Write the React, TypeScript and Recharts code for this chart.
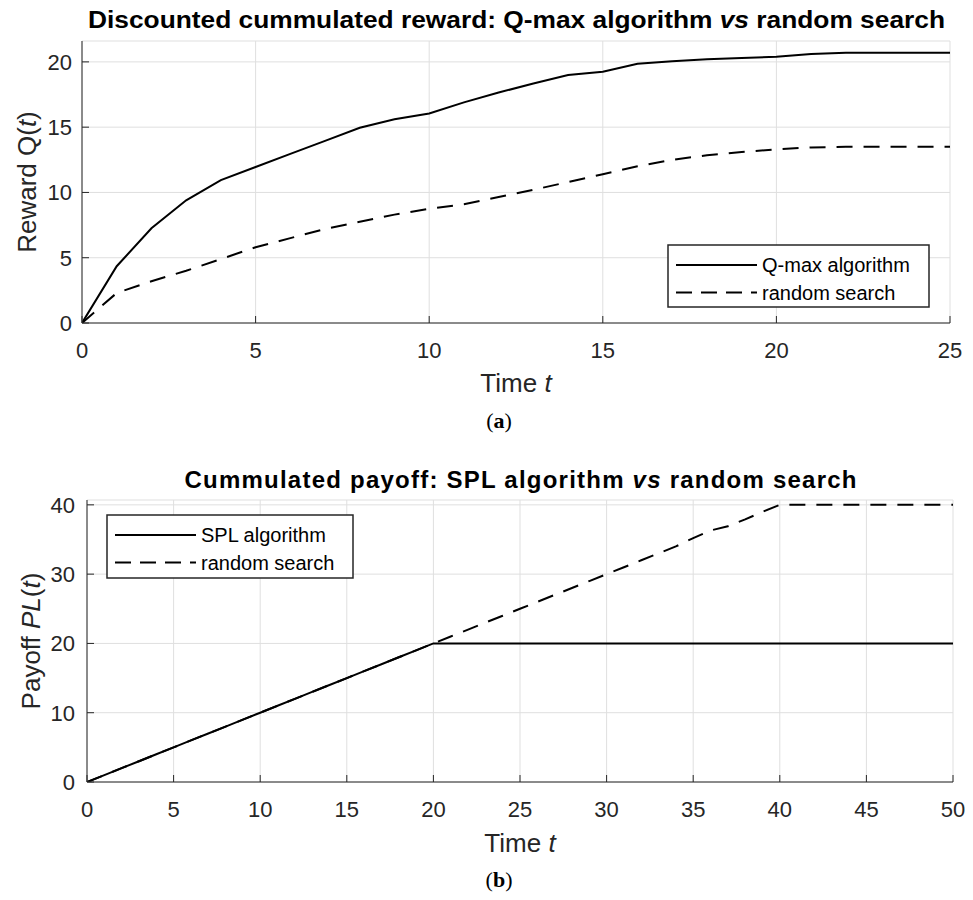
import React from 'react';
import { LineChart, Line, XAxis, YAxis, CartesianGrid } from 'recharts';

// (a) discounted cummulated reward, t = 0..25
const rewardTime = [0, 1, 2, 3, 4, 5, 6, 7, 8, 9, 10, 11, 12, 13, 14, 15, 16, 17, 18, 19, 20, 21, 22, 23, 24, 25];
const qMaxReward = [0, 4.35, 7.25, 9.4, 10.95, 11.95, 12.95, 13.95, 14.95, 15.6, 16.05, 16.9, 17.65, 18.35, 19.0, 19.25, 19.85, 20.05, 20.2, 20.3, 20.4, 20.6, 20.7, 20.7, 20.7, 20.7];
const randomReward = [0, 2.3, 3.2, 4.0, 4.9, 5.8, 6.5, 7.2, 7.75, 8.3, 8.75, 9.1, 9.65, 10.2, 10.8, 11.4, 12.0, 12.5, 12.85, 13.1, 13.3, 13.45, 13.5, 13.5, 13.5, 13.5];
const rewardXTicks = [0, 5, 10, 15, 20, 25];
const rewardYTicks = [0, 5, 10, 15, 20];

// (b) cummulated payoff, t = 0..50
const payoffTime = [0, 1, 2, 3, 4, 5, 6, 7, 8, 9, 10, 11, 12, 13, 14, 15, 16, 17, 18, 19, 20, 21, 22, 23, 24, 25, 26, 27, 28, 29, 30, 31, 32, 33, 34, 35, 36, 37, 38, 39, 40, 41, 42, 43, 44, 45, 46, 47, 48, 49, 50];
const splPayoff = [0, 1, 2, 3, 4, 5, 6, 7, 8, 9, 10, 11, 12, 13, 14, 15, 16, 17, 18, 19, 20, 20, 20, 20, 20, 20, 20, 20, 20, 20, 20, 20, 20, 20, 20, 20, 20, 20, 20, 20, 20, 20, 20, 20, 20, 20, 20, 20, 20, 20, 20];
const randomPayoff = [0, 1, 2, 3, 4, 5, 6, 7, 8, 9, 10, 11, 12, 13, 14, 15, 16, 17, 18, 19, 20, 21, 22, 23, 24, 25, 26, 27, 28, 29, 30, 31, 32, 33, 34, 35.2, 36.3, 36.9, 37.9, 39, 40, 40, 40, 40, 40, 40, 40, 40, 40, 40, 40];
const payoffXTicks = [0, 5, 10, 15, 20, 25, 30, 35, 40, 45, 50];
const payoffYTicks = [0, 10, 20, 30, 40];

const rewardData = rewardTime.map((t, i) => ({ t, qmax: qMaxReward[i], random: randomReward[i] }));
const payoffData = payoffTime.map((t, i) => ({ t, spl: splPayoff[i], random: randomPayoff[i] }));

const FONT = '"Liberation Sans", Arial, Helvetica, sans-serif';
const INK = '#262626';
const GRID = '#dfdfdf';
const DASH = '16 11';

const tickStyle = { fill: INK, fontSize: 22, fontFamily: FONT };

const xTitle = (dy: number) => (props: any) => {
  const { x, y, width } = props.viewBox;
  return (
    <text x={x + width / 2} y={y + dy} textAnchor="middle" fontFamily={FONT} fontSize={26} fill={INK}>
      Time <tspan fontStyle="italic">t</tspan>
    </text>
  );
};

const yTitle = (dx: number, parts: Array<[string, boolean]>) => (props: any) => {
  const { x, y, height } = props.viewBox;
  const cx = x + dx;
  const cy = y + height / 2;
  return (
    <text x={cx} y={cy} dy="0.35em" transform={`rotate(-90 ${cx} ${cy})`} textAnchor="middle" fontFamily={FONT} fontSize={26} fill={INK}>
      {parts.map(([s, it], i) => (
        <tspan key={i} fontStyle={it ? 'italic' : 'normal'}>{s}</tspan>
      ))}
    </text>
  );
};

const LegendBox = ({ x, y, w, h, items }: { x: number; y: number; w: number; h: number; items: Array<[string, boolean]> }) => (
  <g>
    <rect x={x} y={y} width={w} height={h} fill="#fff" stroke={INK} strokeWidth={1.5} />
    {items.map(([name, dashed], i) => {
      const ly = y + 20 + i * 27.5;
      return (
        <g key={name}>
          <line x1={x + 8} x2={x + 89} y1={ly} y2={ly} stroke="#000" strokeWidth={2} strokeDasharray={dashed ? '16 9' : undefined} />
          <text x={x + 94} y={ly + 7} fontFamily={FONT} fontSize={20} fill="#000">{name}</text>
        </g>
      );
    })}
  </g>
);

export default function App() {
  return (
    <div style={{ position: 'absolute', left: 0, top: 0, width: 973, height: 900, background: '#fff', fontFamily: FONT }}>
      <div style={{ position: 'absolute', left: 0, top: 0 }}>
        <LineChart width={973} height={440} data={rewardData} margin={{ top: 41, right: 23, bottom: 0, left: 0 }}>
          <CartesianGrid stroke={GRID} strokeWidth={1} />
          <XAxis dataKey="t" type="number" domain={[0, 25]} ticks={rewardXTicks} allowDataOverflow interval={0}
            height={117} tickSize={-7} tickMargin={26} stroke={INK} tick={tickStyle} label={xTitle(69)} />
          <XAxis xAxisId="top" orientation="top" type="number" domain={[0, 25]} ticks={rewardXTicks} allowDataOverflow
            interval={0} height={0} tickSize={-7} tick={false} stroke={INK} />
          <YAxis type="number" domain={[0, 21.6]} ticks={rewardYTicks} allowDataOverflow interval={0}
            width={82} tickSize={-7} tickMargin={17} stroke={INK} tick={tickStyle}
            label={yTitle(27, [['Reward Q(', false], ['t', true], [')', false]])} />
          <YAxis yAxisId="right" orientation="right" type="number" domain={[0, 21.6]} ticks={rewardYTicks} allowDataOverflow
            interval={0} width={0} tickSize={-7} tick={false} stroke={INK} />
          <Line type="linear" dataKey="qmax" stroke="#000" strokeWidth={2} dot={false} isAnimationActive={false} />
          <Line type="linear" dataKey="random" stroke="#000" strokeWidth={2} strokeDasharray={DASH} dot={false} isAnimationActive={false} />
        </LineChart>
      </div>
      <div style={{ position: 'absolute', left: 0, top: 450 }}>
        <LineChart width={973} height={450} data={payoffData} margin={{ top: 50, right: 20, bottom: 0, left: 0 }}>
          <CartesianGrid stroke={GRID} strokeWidth={1} />
          <XAxis dataKey="t" type="number" domain={[0, 50]} ticks={payoffXTicks} allowDataOverflow interval={0}
            height={118} tickSize={-7} tickMargin={26} stroke={INK} tick={tickStyle} label={xTitle(70)} />
          <XAxis xAxisId="top" orientation="top" type="number" domain={[0, 50]} ticks={payoffXTicks} allowDataOverflow
            interval={0} height={0} tickSize={-7} tick={false} stroke={INK} />
          <YAxis type="number" domain={[0, 40.7]} ticks={payoffYTicks} allowDataOverflow interval={0}
            width={87} tickSize={-7} tickMargin={19} stroke={INK} tick={tickStyle}
            label={yTitle(31, [['Payoff ', false], ['PL', true], ['(', false], ['t', true], [')', false]])} />
          <YAxis yAxisId="right" orientation="right" type="number" domain={[0, 40.7]} ticks={payoffYTicks} allowDataOverflow
            interval={0} width={0} tickSize={-7} tick={false} stroke={INK} />
          <Line type="linear" dataKey="spl" stroke="#000" strokeWidth={2} dot={false} isAnimationActive={false} />
          <Line type="linear" dataKey="random" stroke="#000" strokeWidth={2} strokeDasharray={DASH} dot={false} isAnimationActive={false} />
        </LineChart>
      </div>
      <svg width={973} height={900} style={{ position: 'absolute', left: 0, top: 0, pointerEvents: 'none' }}>
        <text x={516.5} y={28.3} textAnchor="middle" fontFamily={FONT} fontWeight="bold" fontSize={23} fill="#000"
          textLength={857} lengthAdjust="spacingAndGlyphs">
          Discounted cummulated reward: Q-max algorithm <tspan fontStyle="italic">vs</tspan> random search
        </text>
        <text x={520.5} y={488.3} textAnchor="middle" fontFamily={FONT} fontWeight="bold" fontSize={24} fill="#000"
          textLength={672} lengthAdjust="spacing">
          Cummulated payoff: SPL algorithm <tspan fontStyle="italic">vs</tspan> random search
        </text>
        <LegendBox x={668} y={245} w={261} h={62} items={[['Q-max algorithm', false], ['random search', true]]} />
        <LegendBox x={107} y={515} w={246} h={63} items={[['SPL algorithm', false], ['random search', true]]} />
        <text x={499} y={428} textAnchor="middle" fontFamily='"Liberation Serif", "DejaVu Serif", serif' fontSize={22} fill="#000">
          (<tspan fontWeight="bold">a</tspan>)
        </text>
        <text x={499} y={887} textAnchor="middle" fontFamily='"Liberation Serif", "DejaVu Serif", serif' fontSize={22} fill="#000">
          (<tspan fontWeight="bold">b</tspan>)
        </text>
      </svg>
    </div>
  );
}
